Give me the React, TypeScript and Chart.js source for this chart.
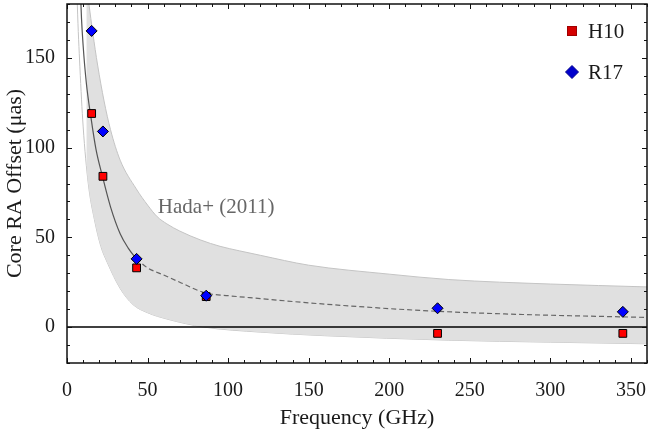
import React, { useEffect, useRef } from "react";
import { Chart, registerables } from "chart.js";

Chart.register(...registerables);

// ---- data ----
const r17Freq = [15.3, 22.3, 43.2, 86.4, 230, 345];
const r17Offset = [165, 109, 38, 17.5, 10.5, 8.5];

const h10Freq = [15.3, 22.3, 43.2, 86.4, 230, 345];
const h10Offset = [119, 84, 33, 17, -3.5, -3.5];

// Hada+ (2011) fit, solid part (measured range)
const fitSolidFreq = [8, 9, 10, 12, 15, 18, 22, 27, 33, 38, 43];
const fitSolidVal = [195, 172, 157, 136, 116, 99, 84, 67, 52, 44, 38];

// Hada+ (2011) fit, dashed part (extrapolated)
const fitDashFreq = [43, 50, 60, 70, 86, 100, 120, 150, 200, 230, 260, 300, 345, 360];
const fitDashVal = [38, 33, 29, 25, 19, 17.5, 15.9, 13.5, 10.3, 8.8, 7.7, 6.6, 5.7, 5.4];

// uncertainty band edges
const bandUpperFreq = [12, 13.6, 16, 19, 23, 27, 33, 43, 50, 56, 62, 70, 83, 95, 107, 120, 150, 200, 237, 300, 360];
const bandUpperVal = [191, 180, 164, 146, 126, 110, 93, 77, 68, 61.5, 57.5, 53.5, 48.5, 45, 42.5, 40, 34.5, 29.5, 26.5, 24, 22.4];

const bandLowerFreq = [6, 6.4, 8, 10, 13.2, 17, 21, 25, 33, 41, 50, 62, 85, 120, 160, 237, 300, 360];
const bandLowerVal = [195, 180, 145, 112, 80, 60, 45, 36, 21.5, 12.5, 8, 4.5, 0, -2.8, -4.8, -7.3, -8.4, -9.3];

const zeroLineFreq = [0, 360];
const zeroLineVal = [0, 0];

const xTicks = [0, 50, 100, 150, 200, 250, 300, 350];
const yTicks = [0, 50, 100, 150];
const xRange = [0, 360];
const yRange = [-20, 180];
const xMinorStep = 10;
const yMinorStep = 10;

const legendLabels = ["H10", "R17"];
const annotationText = "Hada+ (2011)";
const annotationPos = [56.4, 66.4];

const SERIF = "'Liberation Serif', 'DejaVu Serif', serif";

const pts = (xs: number[], ys: number[]) => xs.map((x, i) => ({ x, y: ys[i] }));

const decorPlugin = {
  id: "decor",
  afterDraw(chart: any) {
    const { ctx, chartArea, scales } = chart;
    const { left, right, top, bottom } = chartArea;
    const xs = scales.x;
    const ys = scales.y;
    ctx.save();
    // ticks inside on all four sides
    ctx.strokeStyle = "#111";
    ctx.lineWidth = 1;
    ctx.beginPath();
    for (let v = xRange[0]; v <= xRange[1]; v += xMinorStep) {
      const px = Math.round(xs.getPixelForValue(v)) + 0.5;
      const len = v % 50 === 0 ? 5 : 3;
      ctx.moveTo(px, bottom);
      ctx.lineTo(px, bottom - len);
      ctx.moveTo(px, top);
      ctx.lineTo(px, top + len);
    }
    for (let v = yRange[0]; v <= yRange[1]; v += yMinorStep) {
      const py = Math.round(ys.getPixelForValue(v)) + 0.5;
      const len = v % 50 === 0 ? 5 : 3;
      ctx.moveTo(left, py);
      ctx.lineTo(left + len, py);
      ctx.moveTo(right, py);
      ctx.lineTo(right - len, py);
    }
    ctx.stroke();
    // frame
    ctx.lineWidth = 1.5;
    ctx.strokeStyle = "#111";
    ctx.strokeRect(left, top, right - left, bottom - top);

    // annotation
    ctx.fillStyle = "#666666";
    ctx.font = `21px ${SERIF}`;
    ctx.textBaseline = "middle";
    ctx.textAlign = "left";
    ctx.fillText(
      annotationText,
      xs.getPixelForValue(annotationPos[0]),
      ys.getPixelForValue(annotationPos[1])
    );

    // legend
    const lx = right - 75;
    const rows = [top + 27, top + 68];
    ctx.fillStyle = "#d40000";
    ctx.strokeStyle = "#a00000";
    ctx.lineWidth = 1;
    ctx.fillRect(lx - 4.5, rows[0] - 4.5, 9, 9);
    ctx.strokeRect(lx - 4.5, rows[0] - 4.5, 9, 9);
    ctx.fillStyle = "#0000cc";
    ctx.strokeStyle = "#00008a";
    ctx.beginPath();
    ctx.moveTo(lx, rows[1] - 6.5);
    ctx.lineTo(lx + 6.5, rows[1]);
    ctx.lineTo(lx, rows[1] + 6.5);
    ctx.lineTo(lx - 6.5, rows[1]);
    ctx.closePath();
    ctx.fill();
    ctx.stroke();
    ctx.fillStyle = "#1a1a1a";
    ctx.font = `21px ${SERIF}`;
    ctx.textAlign = "left";
    ctx.textBaseline = "middle";
    ctx.fillText(legendLabels[0], lx + 16, rows[0] + 1);
    ctx.fillText(legendLabels[1], lx + 16, rows[1] + 1);
    ctx.restore();
  },
};

export default function App() {
  const canvasRef = useRef<HTMLCanvasElement | null>(null);

  useEffect(() => {
    const canvas = canvasRef.current;
    if (!canvas) return;
    let chart: Chart | null = null;
    let cancelled = false;
    const tickFont = { family: SERIF, size: 20 };
    const titleFont = { family: SERIF, size: 22 };

    const build = () => {
      if (cancelled) return;
      chart = new Chart(canvas, {
        type: "scatter",
        data: {
          datasets: [
            {
              label: "R17",
              data: pts(r17Freq, r17Offset),
              pointStyle: "rectRot",
              pointRadius: 5.5,
              backgroundColor: "#0000ff",
              borderColor: "#000000",
              borderWidth: 1,
            },
            {
              label: "H10",
              data: pts(h10Freq, h10Offset),
              pointStyle: "rect",
              pointRadius: 5.5,
              backgroundColor: "#ff0000",
              borderColor: "#000000",
              borderWidth: 1,
            },
            {
              label: "zero",
              data: pts(zeroLineFreq, zeroLineVal),
              showLine: true,
              pointRadius: 0,
              borderColor: "#000000",
              borderWidth: 1.5,
            },
            {
              label: "fit",
              data: pts(fitSolidFreq, fitSolidVal),
              showLine: true,
              pointRadius: 0,
              borderColor: "#555555",
              borderWidth: 1.2,
              cubicInterpolationMode: "monotone",
            },
            {
              label: "fit extrapolated",
              data: pts(fitDashFreq, fitDashVal),
              showLine: true,
              pointRadius: 0,
              borderColor: "#666666",
              borderWidth: 1.2,
              borderDash: [5, 3],
              cubicInterpolationMode: "monotone",
            },
            {
              label: "band upper",
              data: pts(bandUpperFreq, bandUpperVal),
              showLine: true,
              pointRadius: 0,
              borderColor: "#c4c4c4",
              borderWidth: 1,
              backgroundColor: "#e0e0e0",
              fill: "+1",
              cubicInterpolationMode: "monotone",
            },
            {
              label: "band lower",
              data: pts(bandLowerFreq, bandLowerVal),
              showLine: true,
              pointRadius: 0,
              borderColor: "#c4c4c4",
              borderWidth: 1,
              cubicInterpolationMode: "monotone",
            },
          ],
        } as any,
        options: {
          animation: false,
          responsive: false,
          devicePixelRatio: 1,
          events: [],
          layout: { autoPadding: false, padding: { top: 4, right: 1, left: 0, bottom: 0 } },
          plugins: {
            legend: { display: false },
            tooltip: { enabled: false },
          },
          scales: {
            x: {
              type: "linear",
              min: xRange[0],
              max: xRange[1],
              afterBuildTicks: (s: any) => {
                s.ticks = xTicks.map((v) => ({ value: v }));
              },
              afterFit: (s: any) => {
                s.height = 69;
                s.paddingLeft = 0;
                s.paddingRight = 0;
              },
              ticks: { font: tickFont, color: "#1a1a1a", padding: 8, maxRotation: 0 },
              grid: { display: false },
              border: { display: false },
              title: {
                display: true,
                text: "Frequency (GHz)",
                font: titleFont,
                color: "#1a1a1a",
                padding: { top: 0, bottom: 1 },
              },
            },
            y: {
              type: "linear",
              min: yRange[0],
              max: yRange[1],
              afterBuildTicks: (s: any) => {
                s.ticks = yTicks.map((v) => ({ value: v }));
              },
              afterFit: (s: any) => {
                s.width = 67;
                s.paddingTop = 0;
                s.paddingBottom = 0;
              },
              ticks: { font: tickFont, color: "#1a1a1a", padding: 4 },
              grid: { display: false },
              border: { display: false },
              title: {
                display: true,
                text: "Core RA Offset (μas)",
                font: titleFont,
                color: "#1a1a1a",
                padding: { top: 2, bottom: 0 },
              },
            },
          },
        } as any,
        plugins: [decorPlugin],
      });
    };

    const fontsApi = (document as any).fonts;
    if (fontsApi && fontsApi.load) {
      Promise.all([
        fontsApi.load(`20px "Liberation Serif"`),
        fontsApi.load(`20px "DejaVu Serif"`),
      ])
        .catch(() => null)
        .then(() => build());
    } else {
      build();
    }

    return () => {
      cancelled = true;
      if (chart) chart.destroy();
    };
  }, []);

  return (
    <div style={{ position: "absolute", left: 0, top: 0, width: 648, height: 432, background: "#fff" }}>
      <canvas ref={canvasRef} width={648} height={432} style={{ display: "block" }} />
    </div>
  );
}
